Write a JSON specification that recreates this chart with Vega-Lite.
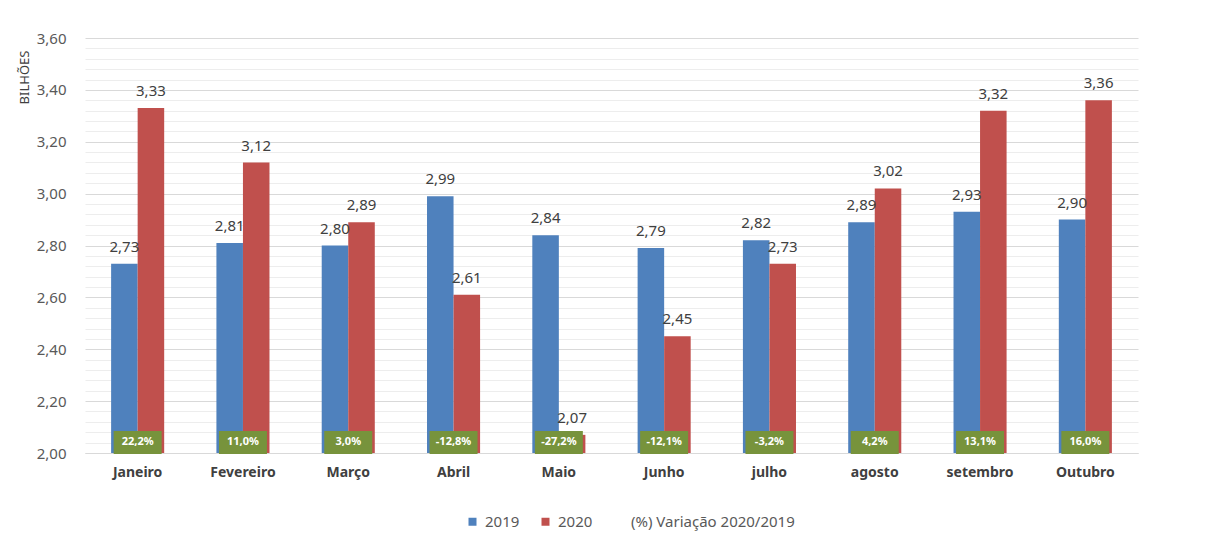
{
  "$schema": "https://vega.github.io/schema/vega-lite/v6.json",
  "width": 1053,
  "height": 415,
  "autosize": {"type": "none"},
  "padding": {"left": 85, "top": 38, "right": 75, "bottom": 98},
  "background": "white",
  "config": {
    "font": "Noto Sans",
    "locale": {"number": {"decimal": ",", "thousands": ".", "grouping": [3], "currency": ["R$ ", ""], "minus": "-"}},
    "view": {"stroke": null}
  },
  "datasets": {
    "bars": [
      {"month": "Janeiro", "series": "2019", "value": 2.73},
      {"month": "Janeiro", "series": "2020", "value": 3.33},
      {"month": "Fevereiro", "series": "2019", "value": 2.81},
      {"month": "Fevereiro", "series": "2020", "value": 3.12},
      {"month": "Março", "series": "2019", "value": 2.80},
      {"month": "Março", "series": "2020", "value": 2.89},
      {"month": "Abril", "series": "2019", "value": 2.99},
      {"month": "Abril", "series": "2020", "value": 2.61},
      {"month": "Maio", "series": "2019", "value": 2.84},
      {"month": "Maio", "series": "2020", "value": 2.07},
      {"month": "Junho", "series": "2019", "value": 2.79},
      {"month": "Junho", "series": "2020", "value": 2.45},
      {"month": "julho", "series": "2019", "value": 2.82},
      {"month": "julho", "series": "2020", "value": 2.73},
      {"month": "agosto", "series": "2019", "value": 2.89},
      {"month": "agosto", "series": "2020", "value": 3.02},
      {"month": "setembro", "series": "2019", "value": 2.93},
      {"month": "setembro", "series": "2020", "value": 3.32},
      {"month": "Outubro", "series": "2019", "value": 2.90},
      {"month": "Outubro", "series": "2020", "value": 3.36}
    ],
    "variation": [
      {"month": "Janeiro", "pct": 0.222},
      {"month": "Fevereiro", "pct": 0.110},
      {"month": "Março", "pct": 0.030},
      {"month": "Abril", "pct": -0.128},
      {"month": "Maio", "pct": -0.272},
      {"month": "Junho", "pct": -0.121},
      {"month": "julho", "pct": -0.032},
      {"month": "agosto", "pct": 0.042},
      {"month": "setembro", "pct": 0.131},
      {"month": "Outubro", "pct": 0.160}
    ]
  },
  "encoding": {
    "x": {
      "field": "month",
      "type": "nominal",
      "sort": ["Janeiro", "Fevereiro", "Março", "Abril", "Maio", "Junho", "julho", "agosto", "setembro", "Outubro"],
      "scale": {"paddingInner": 0.496, "paddingOuter": 0.248},
      "axis": {
        "title": null,
        "labelAngle": 0,
        "labelFontWeight": "bold",
        "labelFontSize": 14,
        "labelColor": "#404040",
        "labelPadding": 12,
        "ticks": false,
        "domainColor": "#D9D9D9",
        "grid": false
      }
    }
  },
  "layer": [
    {
      "layer": [
        {
          "data": {"name": "bars"},
          "mark": {"type": "bar"},
          "encoding": {
            "xOffset": {"field": "series", "type": "nominal"},
            "y": {
              "field": "value",
              "type": "quantitative",
              "scale": {"domain": [2, 3.6], "zero": false, "nice": false},
              "axis": {
                "title": "BILHÕES",
                "values": [2, 2.2, 2.4, 2.6, 2.8, 3.0, 3.2, 3.4, 3.6],
                "format": ".2f",
                "grid": true,
                "gridColor": "#D9D9D9",
                "domain": false,
                "ticks": false,
                "labelFontSize": 15,
                "labelColor": "#595959",
                "labelPadding": 19,
                "titleFontSize": 13,
                "titleFontWeight": "normal",
                "titleColor": "#404040",
                "titleAngle": -90,
                "titleX": -61,
                "titleY": 39,
                "titleAlign": "center",
                "titleBaseline": "middle"
              }
            },
            "y2": {"datum": 2},
            "color": {
              "field": "series",
              "type": "nominal",
              "scale": {
                "domain": ["2019", "2020", "(%) Variação 2020/2019"],
                "range": ["#4F81BD", "#C0504D", "rgba(0,0,0,0)"]
              },
              "legend": {
                "title": null,
                "orient": "none",
                "legendX": 380,
                "legendY": 476,
                "direction": "horizontal",
                "symbolType": "square",
                "symbolSize": 64,
                "symbolStrokeWidth": 0,
                "labelFontSize": 15,
                "labelColor": "#595959",
                "labelOffset": 5,
                "labelLimit": 400,
                "columnPadding": 18
              }
            }
          }
        },
        {
          "data": {"name": "bars"},
          "mark": {"type": "text", "baseline": "bottom", "dy": -9, "fontSize": 15, "color": "#404040"},
          "encoding": {
            "xOffset": {"field": "series", "type": "nominal"},
            "y": {"field": "value", "type": "quantitative"},
            "text": {"field": "value", "type": "quantitative", "format": ".2f"}
          }
        },
        {
          "data": {"name": "variation"},
          "mark": {"type": "bar", "color": "#77933C", "width": 48},
          "encoding": {
            "y": {"datum": 1.996, "type": "quantitative"},
            "y2": {"datum": 2.085}
          }
        },
        {
          "data": {"name": "variation"},
          "mark": {"type": "text", "baseline": "middle", "fontSize": 11, "fontWeight": "bold", "color": "white"},
          "encoding": {
            "y": {"datum": 2.041, "type": "quantitative"},
            "text": {"field": "pct", "type": "quantitative", "format": ".1%"}
          }
        }
      ]
    },
    {
      "data": {"name": "bars"},
      "mark": {"type": "bar", "opacity": 0},
      "encoding": {
        "xOffset": {"field": "series", "type": "nominal"},
        "y": {
          "field": "value",
          "type": "quantitative",
          "scale": {"domain": [2, 3.6], "zero": false, "nice": false},
          "axis": {
            "orient": "right",
            "values": [2.04, 2.08, 2.12, 2.16, 2.24, 2.28, 2.32, 2.36, 2.44, 2.48, 2.52, 2.56, 2.64, 2.68, 2.72, 2.76, 2.84, 2.88, 2.92, 2.96, 3.04, 3.08, 3.12, 3.16, 3.24, 3.28, 3.32, 3.36, 3.44, 3.48, 3.52, 3.56],
            "labels": false,
            "ticks": false,
            "domain": false,
            "title": null,
            "grid": true,
            "gridColor": "#EDEDED"
          }
        },
        "y2": {"datum": 2}
      }
    }
  ],
  "resolve": {"axis": {"y": "independent"}}
}
